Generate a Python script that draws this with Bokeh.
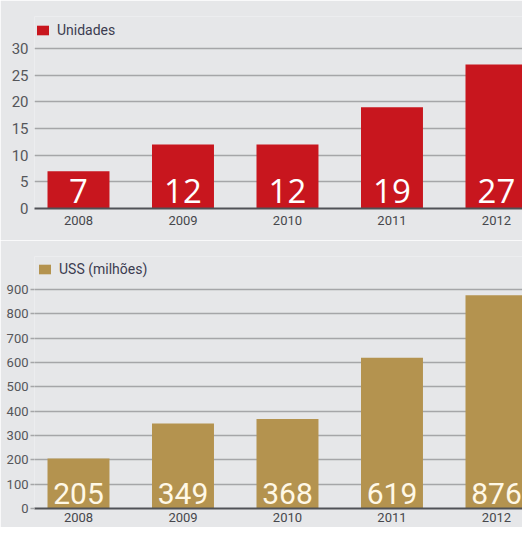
from bokeh.plotting import figure
from bokeh.models import Range1d, FixedTicker, ColumnDataSource, Legend, LegendItem
from bokeh.layouts import column
from bokeh.embed import file_html
from bokeh.resources import INLINE
from bokeh.core.properties import value

years = [2008, 2009, 2010, 2011, 2012]
unidades = [7, 12, 12, 19, 27]
usd_milhoes = [205, 349, 368, 619, 876]
ticks_top = [0, 5, 10, 15, 20, 25, 30]
ticks_bottom = [0, 100, 200, 300, 400, 500, 600, 700, 800, 900]
label_top = "Unidades"
label_bottom = "USS (milhões)"

BG = "#e6e7e9"
RED = "#c8161e"
GOLD = "#b4934f"
GRID = "#a5a6a8"
TICK = "#55565a"


def make_panel(vals, ticks, y_end, height, top, bottom, color, legend_text,
               legend_loc, val_font, val_size, val_offset, tick_size, tick_out,
               label_color, x_standoff):
    src = ColumnDataSource(dict(x=years, y=vals, t=[str(v) for v in vals],
                                z=[0] * len(vals)))
    p = figure(width=522, height=height, output_backend="svg", toolbar_location=None,
               x_range=Range1d(2007.579, 2012.249), y_range=Range1d(0, y_end),
               min_border_left=34, min_border_right=0, min_border_top=top,
               min_border_bottom=bottom)
    p.background_fill_color = BG
    p.border_fill_color = BG
    p.outline_line_color = None
    r = p.vbar(x="x", top="y", width=0.593, source=src, fill_color=color,
               line_color=None)
    p.text(x="x", y="z", text="t", source=src, text_align="center",
           text_baseline="bottom", y_offset=val_offset,
           text_font=value(val_font), text_font_size=val_size,
           text_color=label_color)
    leg = Legend(items=[LegendItem(label=legend_text, renderers=[r])],
                 location=legend_loc, background_fill_alpha=0,
                 border_line_alpha=0, padding=0, margin=0, glyph_width=15,
                 glyph_height=12, label_height=12, label_standoff=7,
                 label_text_font="Roboto", label_text_font_size="14px",
                 label_text_color="#3c3c50")
    p.add_layout(leg)
    p.xgrid.grid_line_color = None
    p.ygrid.ticker = FixedTicker(ticks=ticks)
    p.ygrid.grid_line_color = GRID
    p.ygrid.grid_line_width = 1.7
    p.yaxis.ticker = FixedTicker(ticks=ticks)
    p.yaxis.axis_line_color = None
    p.yaxis.major_tick_in = 0
    p.yaxis.major_tick_out = tick_out
    p.yaxis.major_tick_line_color = GRID
    p.yaxis.major_tick_line_width = 1.7
    p.yaxis.minor_tick_line_color = None
    p.yaxis.major_label_standoff = 2 if tick_out else 6
    p.yaxis.major_label_text_font = "Roboto"
    p.yaxis.major_label_text_font_size = tick_size
    p.yaxis.major_label_text_color = TICK
    p.xaxis.ticker = FixedTicker(ticks=years)
    p.xaxis.axis_line_color = "#505257"
    p.xaxis.axis_line_width = 1.8
    p.xaxis.major_tick_line_color = None
    p.xaxis.minor_tick_line_color = None
    p.xaxis.major_tick_out = 0
    p.xaxis.major_tick_in = 0
    p.xaxis.major_label_standoff = x_standoff
    p.xaxis.major_label_text_font = "Roboto"
    p.xaxis.major_label_text_font_size = "13px"
    p.xaxis.major_label_text_color = "#46474c"
    return p


p1 = make_panel(unidades, ticks_top, 36.0, 240, 16, 32, RED, label_top,
                (1, 170), "Open Sans", "33px", -6, "15px", 0, "#ffffff", 7)
p2 = make_panel(usd_milhoes, ticks_bottom, 1035.6, 287, 16, 19, GOLD, label_bottom,
                (3, 231), "Roboto", "30px", -5, "13px", 4, "#fff8e6", 4)

p = column(p1, p2, spacing=0)
open("out.html", "w").write(file_html(p, INLINE))
